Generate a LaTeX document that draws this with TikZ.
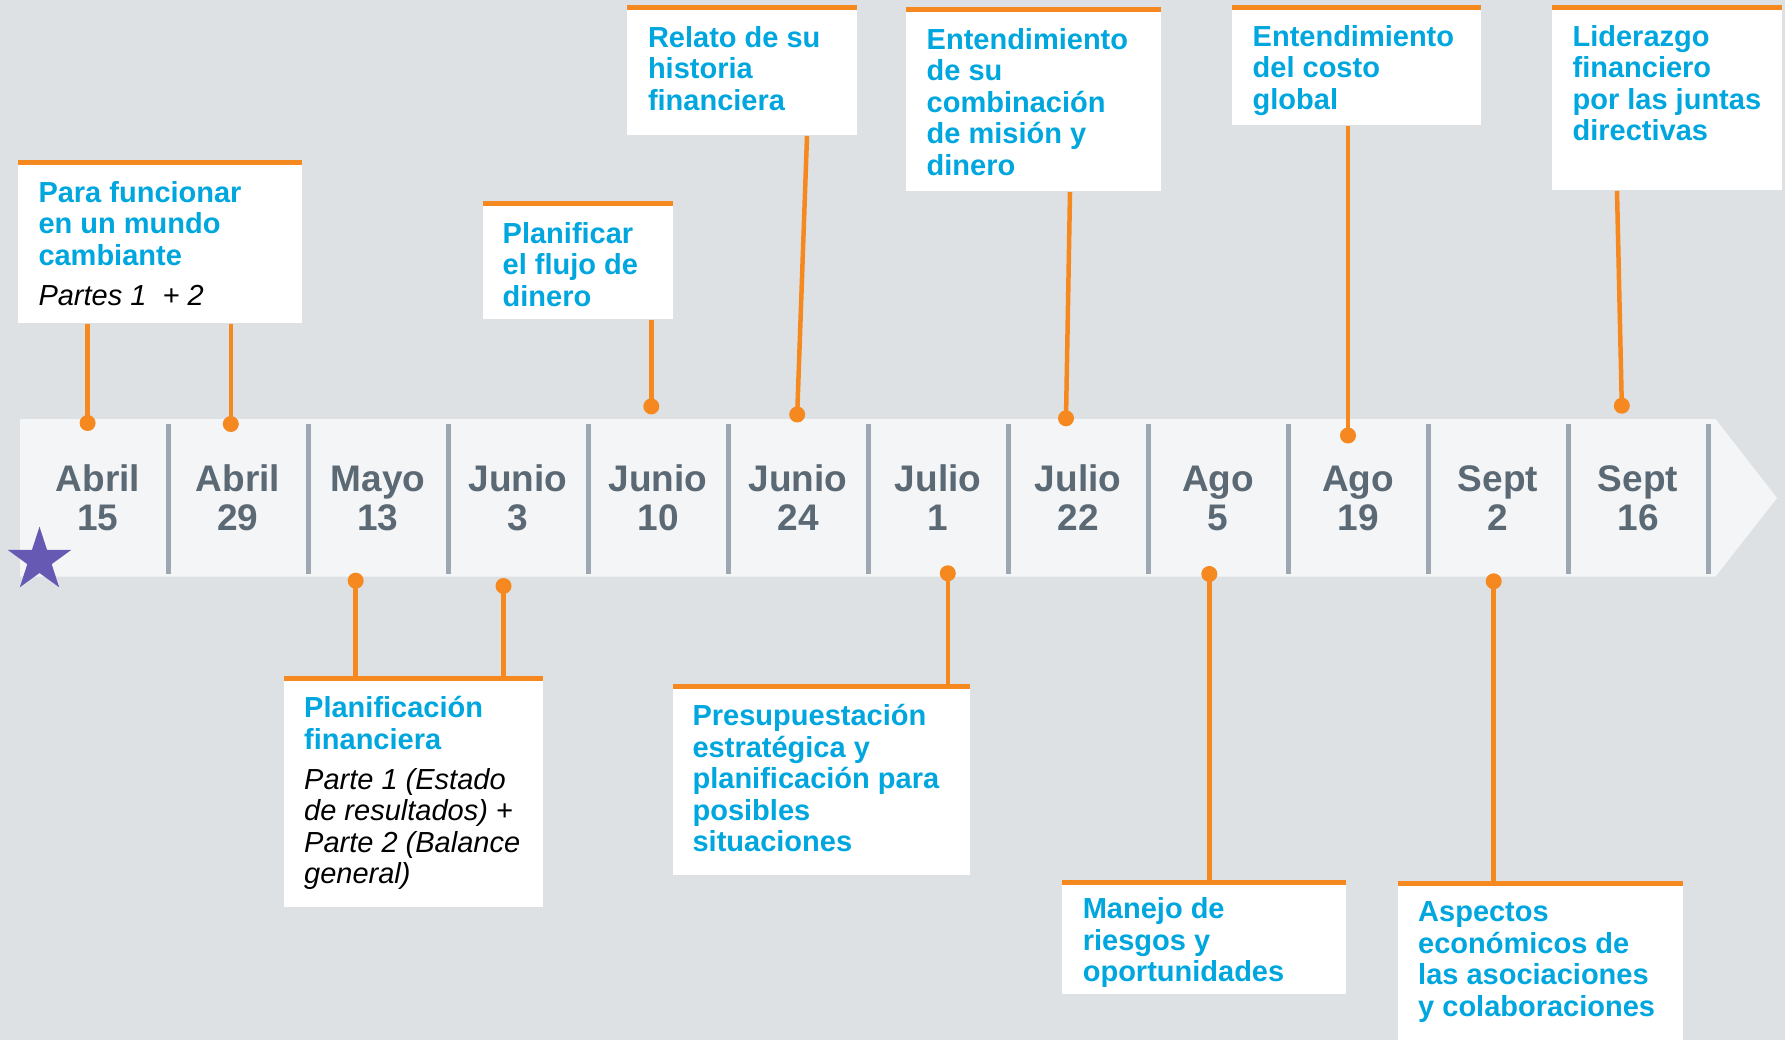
\documentclass[tikz,border=0pt]{standalone}
\usepackage{fontspec}
\setmainfont{Liberation Sans}
\usetikzlibrary{shapes.geometric}
\definecolor{bgc}{HTML}{DEE1E4}
\definecolor{stripc}{HTML}{F4F5F7}
\definecolor{sepc}{HTML}{9CA7B1}
\definecolor{datec}{HTML}{5B6975}
\definecolor{bluec}{HTML}{00A6DE}
\definecolor{orc}{HTML}{F5881F}
\definecolor{starc}{HTML}{6659B3}
\newcommand\mylines[1]{\begin{tabular}[t]{@{}l@{}}#1\end{tabular}}
\newcommand\mydate[1]{\begin{tabular}[t]{@{}c@{}}#1\end{tabular}}
\newcommand\itpart{\color{black}\mdseries\itshape}
\tikzset{
  box/.style={fill=white, draw=none, anchor=north west, inner sep=0, outer sep=0},
  txt/.style={anchor=base west, inner sep=0, yshift=-1.5pt, text=bluec, font=\fontsize{29}{31.5}\selectfont\bfseries},
  datetxt/.style={anchor=base, inner sep=0, text=datec, font=\fontsize{37}{39.5}\selectfont\bfseries},
  dot/.style={circle, fill=orc, minimum size=16, inner sep=0},
  conn/.style={draw=orc, line width=4.5},
  sepline/.style={draw=sepc, line width=5},
}
\begin{document}
\begin{tikzpicture}[x=1pt,y=-1pt]
\useasboundingbox (0,0) rectangle (1785,1040);
\fill[bgc] (0,0) rectangle (1785,1040);
% timeline strip
\fill[stripc] (20,419) -- (1715.5,419) -- (1777,498) -- (1715.5,576.5) -- (20,576.5) -- cycle;
\foreach \i in {0,...,11} \draw[sepline] ({168.5+140*\i},424) -- ({168.5+140*\i},574);
\foreach \i/\m/\d in {0/Abril/15,1/Abril/29,2/Mayo/13,3/Junio/3,4/Junio/10,5/Junio/24,6/Julio/1,7/Julio/22,8/Ago/5,9/Ago/19,10/Sept/2,11/Sept/16}
  \node[datetxt] (dt\i) at ({98+140*\i},491) {\mydate{\m\\\d}};
\node[star, star points=5, star point ratio=2.618, minimum size=67, fill=starc, inner sep=0] (st) at (39.5,560.2) {};
% dots
\node[dot] (d0) at (87.6,423) {};
\node[dot] (d1) at (230.8,424) {};
\node[dot] (d2) at (355.7,580.7) {};
\node[dot] (d3) at (503.5,586) {};
\node[dot] (d4) at (651.3,406.4) {};
\node[dot] (d5) at (797.2,414.5) {};
\node[dot] (d6) at (947.8,573.3) {};
\node[dot] (d7) at (1066,418.3) {};
\node[dot] (d8) at (1209.3,574) {};
\node[dot] (d9) at (1348,435.5) {};
\node[dot] (d10) at (1493.7,581.3) {};
\node[dot] (d11) at (1621.8,405.7) {};
% connector ends at boxes
\coordinate (c0) at (87.6,324);
\coordinate (c1) at (230.8,324);
\coordinate (c2) at (355.7,678);
\coordinate (c3) at (503.5,678);
\coordinate (c4) at (651.3,320);
\coordinate (c5) at (807,136);
\coordinate (c6) at (947.8,686);
\coordinate (c7) at (1070,192);
\coordinate (c8) at (1209.3,882);
\coordinate (c9) at (1348,126);
\coordinate (c10) at (1493.7,883);
\coordinate (c11) at (1617,191);
\foreach \i in {0,...,11} \draw[conn] (c\i) -- (d\i.center);
% boxes
\foreach \n/\x/\y/\w/\h in {b1/18/160/284/162.7, b2/483/201/190/117.8, b3/627/5/230/129.7, b4/906/7/255/183.6, b5/1232/5/249/119.8, b6/1552/5/230/184.8, b7/284/676/258.7/230.7, b8/673/684/297/190.7, b9/1062/880/284/114, b10/1398/881/284.5/159}{
  \node[box, minimum width=\w, minimum height=\h] (\n) at (\x,\y) {};
  \fill[orc] (\n.north west) rectangle ++(\w,5);
}
% texts
\node[txt] (t1) at (38.3,201) {\mylines{Para funcionar\\en un mundo\\cambiante\\[8.5pt]\itpart Partes 1~~+ 2}};
\node[txt] (t2) at (502.5,242) {\mylines{Planificar\\el flujo de\\dinero}};
\node[txt] (t3) at (647.8,46) {\mylines{Relato de su\\historia\\financiera}};
\node[txt] (t4) at (926.5,47.8) {\mylines{Entendimiento\\de su\\combinación\\de misión y\\dinero}};
\node[txt] (t5) at (1252.5,45) {\mylines{Entendimiento\\del costo\\global}};
\node[txt] (t6) at (1572.4,45) {\mylines{Liderazgo\\financiero\\por las juntas\\directivas}};
\node[txt] (t7) at (304,716) {\mylines{Planificación\\financiera\\[8.5pt]\itpart Parte 1 (Estado\\\itpart de resultados) +\\\itpart Parte 2 (Balance\\\itpart general)}};
\node[txt] (t8) at (692.4,724) {\mylines{Presupuestación\\estratégica y\\planificación para\\posibles\\situaciones}};
\node[txt] (t9) at (1082.6,917.3) {\mylines{Manejo de\\riesgos y\\oportunidades}};
\node[txt] (t10) at (1418,920) {\mylines{Aspectos\\económicos de\\las asociaciones\\y colaboraciones}};
\end{tikzpicture}
\end{document}
